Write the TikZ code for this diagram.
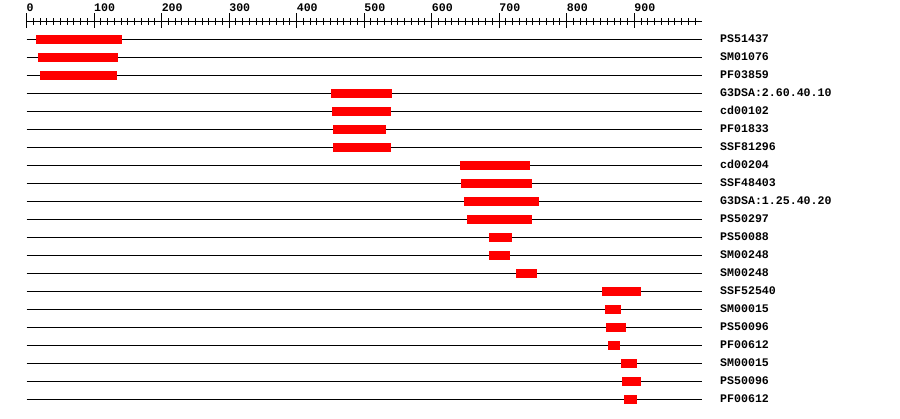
\documentclass[tikz,border=0pt]{standalone}
\usepackage{fontspec}
\setmonofont{Liberation Mono}
\begin{document}
\begin{tikzpicture}[x=1pt,y=-1pt,
  txt/.style={font=\ttfamily\bfseries\fontsize{11.6}{12}\selectfont,inner sep=0pt,anchor=base west},
  rowline/.style={line width=1pt,black},
  bar/.style={fill={rgb,255:red,255;green,0;blue,0},draw=none},
  tick/.style={line width=1pt,black}]
\useasboundingbox[fill=white] (0,0) rectangle (900,418);
% axis
\draw[tick] (26.5,21.7) -- (701.8,21.7);
\foreach \u in {0,100,...,900}{
  \pgfmathsetmacro\xx{26.5+0.6753*\u}
  \draw[tick] (\xx,13.3) -- (\xx,28.3);
  \node[txt] (ax\u) at (\xx,11.7) {\u};
}
\foreach \u in {10,20,...,990}{
  \pgfmathsetmacro\xx{26.5+0.6753*\u}
  \draw[tick] (\xx,18.3) -- (\xx,25);
}
% rows
\foreach \i/\t/\a/\b in {
 1/{PS51437}/36/122,
 2/{SM01076}/38/118,
 3/{PF03859}/40/117,
 4/{G3DSA:2.60.40.10}/331/392,
 5/{cd00102}/332/391,
 6/{PF01833}/333/386,
 7/{SSF81296}/333/391,
 8/{cd00204}/460/530,
 9/{SSF48403}/461/532,
 10/{G3DSA:1.25.40.20}/464/539,
 11/{PS50297}/467/532,
 12/{PS50088}/489/512,
 13/{SM00248}/489/510,
 14/{SM00248}/516/537,
 15/{SSF52540}/602/641,
 16/{SM00015}/605/621,
 17/{PS50096}/606/626,
 18/{PF00612}/608/620,
 19/{SM00015}/621/637,
 20/{PS50096}/622/641,
 21/{PF00612}/624/637}{
  \pgfmathsetmacro\yy{39.3+18*(\i-1)}
  \draw[rowline] (26.5,\yy) -- (701.8,\yy);
  \fill[bar] (\a,\yy-4.7) rectangle (\b,\yy+4.7);
  \node[txt] (lab\i) at (720,\yy+3.6) {\t};
}
\end{tikzpicture}
\end{document}
